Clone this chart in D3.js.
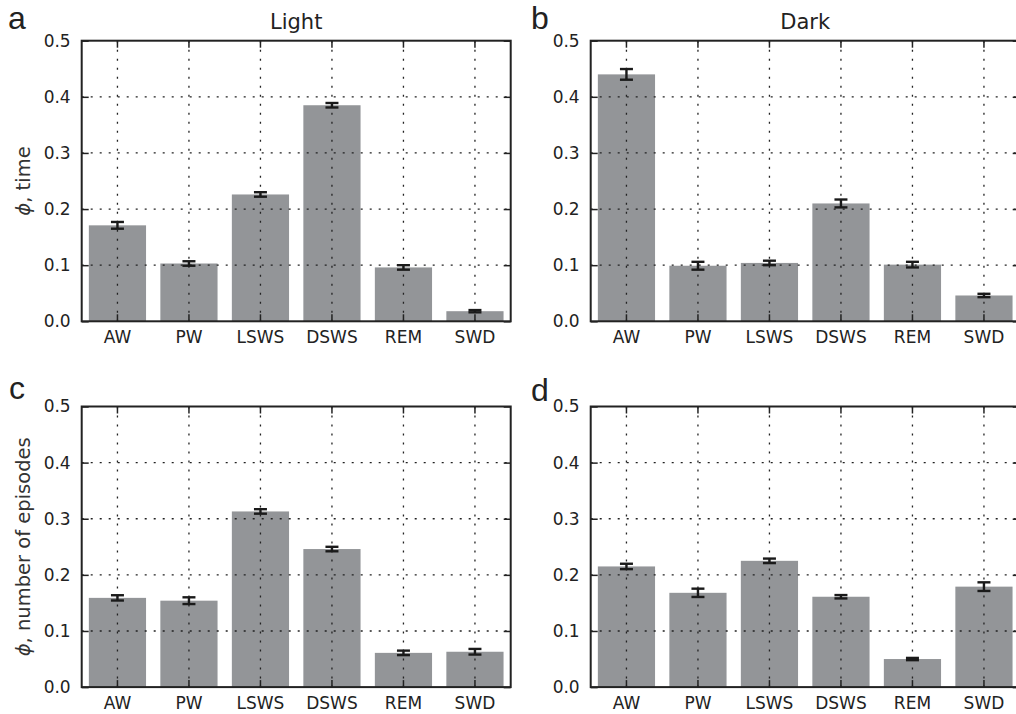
<!DOCTYPE html>
<html lang="en">
<head>
  <meta charset="UTF-8">
  <title>Sleep state fractions</title>
  <script src="https://d3js.org/d3.v7.min.js"></script>
  <style>
    body { margin: 0; background: #fff; }
    text { font-family: "DejaVu Sans", sans-serif; fill: #222; }
    .letter { font-family: "Liberation Sans", Arial, sans-serif; font-size: 32px; }
    .title { font-size: 21px; }
    .tick text { font-size: 17px; }
    .ylab { font-size: 19.5px; fill: #333; }
  </style>
</head>
<body>
  <svg width="1016" height="714"></svg>

  <script>
    // states on the x axis
    const states = ["AW", "PW", "LSWS", "DSWS", "REM", "SWD"];
    const yTicks = [0, 0.1, 0.2, 0.3, 0.4, 0.5];

    // fraction of time
    const timeLight    = [0.171, 0.103, 0.226, 0.385, 0.096, 0.018];
    const timeLightErr = [0.006, 0.004, 0.004, 0.004, 0.004, 0.002];
    const timeDark     = [0.440, 0.099, 0.104, 0.210, 0.101, 0.046];
    const timeDarkErr  = [0.0095, 0.007, 0.004, 0.007, 0.005, 0.003];

    // fraction of episodes
    const epiLight     = [0.159, 0.154, 0.313, 0.246, 0.061, 0.063];
    const epiLightErr  = [0.0047, 0.006, 0.004, 0.004, 0.004, 0.005];
    const epiDark      = [0.215, 0.168, 0.225, 0.161, 0.050, 0.179];
    const epiDarkErr   = [0.0048, 0.0074, 0.004, 0.003, 0.002, 0.0077];

    const svg = d3.select("svg");
    const w = 429, h = 280.6;

    const panels = [
      { letter: "a", title: "Light", ylab: "time", vals: timeLight, err: timeLightErr, x: 81.7, y: 40.7, lx: 8, ly: 29 },
      { letter: "b", title: "Dark", ylab: null, vals: timeDark, err: timeDarkErr, x: 590.7, y: 40.7, lx: 531, ly: 29 },
      { letter: "c", title: null, ylab: "number of episodes", vals: epiLight, err: epiLightErr, x: 81.7, y: 406.5, lx: 9, ly: 399 },
      { letter: "d", title: null, ylab: null, vals: epiDark, err: epiDarkErr, x: 590.7, y: 406.5, lx: 531, ly: 401 }
    ];

    panels.forEach(p => {
      const x = d3.scaleBand().domain(states).range([0, w]).paddingInner(0.2).paddingOuter(0.1);
      const y = d3.scaleLinear().domain([0, 0.5]).range([h, 0]);
      const g = svg.append("g").attr("transform", `translate(${p.x},${p.y})`);
      const cx = d => x(d) + x.bandwidth() / 2;

      // bars
      g.selectAll("rect.bar")
        .data(states)
        .enter().append("rect")
        .attr("class", "bar")
        .attr("x", d => x(d))
        .attr("width", x.bandwidth())
        .attr("y", (d, i) => y(p.vals[i]))
        .attr("height", (d, i) => h - y(p.vals[i]))
        .attr("fill", "#939598");

      // dotted grid on top of bars
      g.selectAll("line.vgrid")
        .data(states)
        .enter().append("line")
        .attr("x1", cx).attr("x2", cx)
        .attr("y1", 0).attr("y2", h)
        .attr("stroke", "#222").attr("stroke-width", 1.3)
        .attr("stroke-dasharray", "2,7");
      g.selectAll("line.hgrid")
        .data(yTicks.slice(1, -1))
        .enter().append("line")
        .attr("x1", 0).attr("x2", w)
        .attr("y1", d => y(d)).attr("y2", d => y(d))
        .attr("stroke", "#222").attr("stroke-width", 1.3)
        .attr("stroke-dasharray", "2,7");

      // error bars
      const eb = g.selectAll("g.err")
        .data(states)
        .enter().append("g")
        .attr("stroke", "#1a1a1a").attr("stroke-width", 2.4);
      eb.append("line")
        .attr("x1", cx).attr("x2", cx)
        .attr("y1", (d, i) => y(p.vals[i] - p.err[i]))
        .attr("y2", (d, i) => y(p.vals[i] + p.err[i]));
      [-1, 1].forEach(s => {
        eb.append("line")
          .attr("x1", d => cx(d) - 6.5).attr("x2", d => cx(d) + 6.5)
          .attr("y1", (d, i) => y(p.vals[i] + s * p.err[i]))
          .attr("y2", (d, i) => y(p.vals[i] + s * p.err[i]));
      });

      // axes with inward ticks
      const xb = g.append("g").attr("transform", `translate(0,${h})`)
        .call(d3.axisBottom(x).tickSizeInner(-7).tickSizeOuter(0).tickPadding(10));
      const xt = g.append("g")
        .call(d3.axisTop(x).tickSizeInner(-7).tickSizeOuter(0).tickFormat(""));
      const yl = g.append("g")
        .call(d3.axisLeft(y).tickValues(yTicks).tickFormat(d3.format(".1f"))
          .tickSizeInner(-7).tickSizeOuter(0).tickPadding(11));
      const yr = g.append("g").attr("transform", `translate(${w},0)`)
        .call(d3.axisRight(y).tickValues(yTicks).tickFormat("")
          .tickSizeInner(-7).tickSizeOuter(0));
      [xb, xt, yl, yr].forEach(a => {
        a.select(".domain").remove();
        a.selectAll(".tick line").attr("stroke", "#222").attr("stroke-width", 1.5);
      });

      // frame
      g.append("rect")
        .attr("width", w).attr("height", h)
        .attr("fill", "none").attr("stroke", "#222").attr("stroke-width", 2);

      if (p.title) {
        g.append("text").attr("class", "title")
          .attr("x", w / 2).attr("y", -12)
          .attr("text-anchor", "middle").text(p.title);
      }
      if (p.ylab) {
        const t = g.append("text").attr("class", "ylab")
          .attr("transform", `translate(${-52},${h / 2}) rotate(-90)`)
          .attr("text-anchor", "middle");
        t.append("tspan").attr("font-style", "italic").text("ϕ");
        t.append("tspan").text(", " + p.ylab);
      }
      svg.append("text").attr("class", "letter")
        .attr("x", p.lx).attr("y", p.ly).text(p.letter);
    });
  </script>
</body>
</html>
